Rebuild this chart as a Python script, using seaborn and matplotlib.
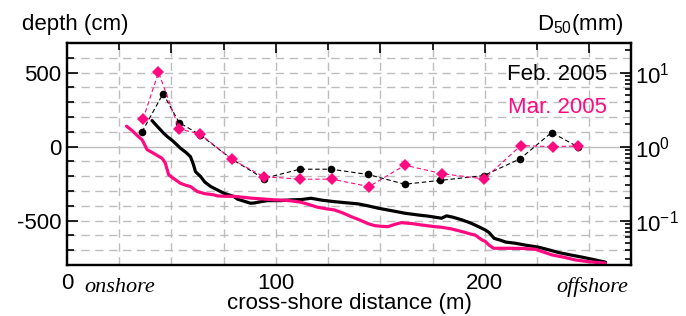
import numpy as np
import pandas as pd
import seaborn as sns
import matplotlib.pyplot as plt
from matplotlib.ticker import MultipleLocator, LogLocator, NullFormatter

# --- DATOS ---
feb_x = [40.7, 43, 46.3, 48, 50.5, 52.7, 54.3, 57, 59.1, 60.5, 61.5, 64, 66, 68.8, 70.3,
         75.1, 80, 81.6, 85, 88, 90, 92.8, 96, 102.4, 107, 112, 116.8, 122, 128, 134,
         139.3, 144, 148.9, 155, 161.7, 168, 173, 176.1, 179.3, 181.7, 185, 189, 193,
         197, 200.2, 202, 204.5, 207.4, 210, 214.6, 220, 225.8, 230, 235.4, 241, 246.6,
         252, 257.8]
feb_depth = [176, 140, 90, 68, 40, 11, -11, -40, -68, -120, -169, -203, -240, -270, -281,
             -315, -338, -355, -370, -383, -380, -372, -365, -365, -360, -358, -349, -362,
             -372, -380, -387, -400, -416, -432, -450, -462, -470, -477, -484, -468, -478,
             -495, -515, -541, -563, -580, -620, -632, -645, -653, -667, -680, -695, -716,
             -732, -747, -763, -781]

mar_x = [28.5, 31, 34, 36, 38.3, 42, 45.5, 47, 48.7, 51, 54.3, 57, 59.1, 62.4, 66, 70.3,
         72, 76, 80, 84, 88, 94, 99.2, 104, 108, 112, 116, 120, 124, 128, 132, 136, 140,
         144, 147.3, 150, 153.7, 157, 160.1, 165, 170, 176.1, 179.3, 184, 189, 193, 195.3,
         198.6, 200.2, 202, 204.2, 208, 211.4, 218, 224.2, 228, 232.2, 238, 243.4, 250,
         257.8]
mar_depth = [138, 110, 70, 45, -20, -50, -79, -110, -191, -215, -248, -262, -270, -304,
             -318, -326, -333, -336, -336, -342, -348, -354, -360, -362, -368, -376, -392,
             -410, -420, -428, -448, -473, -495, -520, -534, -538, -541, -525, -514, -520,
             -530, -541, -545, -556, -574, -590, -597, -630, -640, -665, -687, -687, -687,
             -688, -694, -712, -732, -748, -766, -778, -788]

feb_d50_x = [35.9, 46, 53.7, 63.6, 78.8, 94.1, 111.5, 126.4, 144.1, 161.7, 178.8, 199.4,
             216.8, 232, 244.6]
feb_d50 = [1.58, 5.2, 2.11, 1.45, 0.68, 0.37, 0.495, 0.495, 0.42, 0.31, 0.35, 0.405,
           0.68, 1.55, 0.99]

mar_d50_x = [36.4, 43.8, 53.7, 63.6, 78.8, 94.1, 111.5, 126.9, 144.6, 161.7, 179.7, 199.7,
             217.2, 232.5, 244.7]
mar_d50 = [2.34, 10.1, 1.72, 1.49, 0.676, 0.393, 0.363, 0.363, 0.288, 0.56, 0.43, 0.366,
           1.03, 1.0, 1.02]

PINK = '#ff0a80'
GRID = '#bdbdbd'

sns.set_style('white')
plt.rcParams['font.family'] = ['Liberation Sans', 'DejaVu Sans']
plt.rcParams['mathtext.fontset'] = 'custom'
plt.rcParams['mathtext.rm'] = 'Liberation Sans'
for k in ['text.color', 'axes.edgecolor', 'axes.labelcolor', 'xtick.color', 'ytick.color']:
    plt.rcParams[k] = 'black'
FS = 16

fig = plt.figure(figsize=(6.86, 3.16), dpi=100)
ax = fig.add_axes([67 / 686, 51 / 316, 564 / 686, 222 / 316])

# grid
for gx in np.arange(25, 270, 25):
    ax.axvline(gx, color=GRID, lw=1, ls=(0, (6, 4)), zorder=0)
for gy in np.arange(-700, 700, 100):
    if gy == 0:
        ax.axhline(gy, color=GRID, lw=1, zorder=0)
    else:
        ax.axhline(gy, color=GRID, lw=1, ls=(0, (6, 4)), zorder=0)

# perfiles de profundidad
sns.lineplot(x=feb_x, y=feb_depth, sort=False, estimator=None, ax=ax, color='black', lw=2.3)
sns.lineplot(x=mar_x, y=mar_depth, sort=False, estimator=None, ax=ax, color=PINK, lw=2.3)

ax.set_xlim(0, 270)
ax.set_ylim(-800, 700)
ax.set_xticks([0, 50, 100, 150, 200, 250], labels=['0', '', '100', '', '200', ''])
ax.xaxis.set_minor_locator(MultipleLocator(25))
ax.set_yticks([-500, 0, 500], labels=['-500', '0', '500'])
ax.yaxis.set_minor_locator(MultipleLocator(100))
ax.tick_params(axis='both', which='both', direction='in', top=True, labelsize=FS, width=1.2)
ax.tick_params(axis='y', which='major', length=8, pad=4)
ax.tick_params(axis='y', which='minor', length=5)
ax.tick_params(axis='x', which='major', length=7, pad=6)
ax.tick_params(axis='x', which='minor', length=5)
for sp in ax.spines.values():
    sp.set_linewidth(1.6)

# D50 en eje derecho logarítmico
ax2 = ax.twinx()
ax2.set_yscale('log')
sns.lineplot(x=feb_d50_x, y=feb_d50, sort=False, estimator=None, ax=ax2, color='black',
             lw=0.8, linestyle=(0, (4, 2.5)), marker='o', markersize=5.5,
             markeredgecolor='black', markeredgewidth=0)
sns.lineplot(x=mar_d50_x, y=mar_d50, sort=False, estimator=None, ax=ax2, color=PINK,
             lw=0.8, linestyle=(0, (4, 2.5)), marker='D', markersize=6,
             markeredgecolor=PINK, markeredgewidth=0)
ax2.set_ylim(10 ** -1.6, 10 ** 1.4)
ax2.yaxis.set_major_locator(LogLocator(base=10))
ax2.yaxis.set_minor_locator(LogLocator(base=10, subs=np.arange(2, 10)))
ax2.yaxis.set_minor_formatter(NullFormatter())
ax2.tick_params(axis='y', which='both', direction='in', labelsize=FS, width=1.2)
ax2.tick_params(axis='y', which='major', length=8, pad=3)
ax2.tick_params(axis='y', which='minor', length=4)
for sp in ax2.spines.values():
    sp.set_linewidth(1.6)
ax.set_xlabel('')
ax.set_ylabel('')
ax2.set_ylabel('')

# textos
fig.text(22 / 686, 1 - 30 / 316, 'depth (cm)', fontsize=FS, va='baseline', ha='left')
fig.text(624 / 686, 1 - 30 / 316, r'D$_{50}$(mm)', fontsize=FS, va='baseline', ha='right')
fig.text(349 / 686, 1 - 309 / 316, 'cross-shore distance (m)', fontsize=FS,
         va='baseline', ha='center')
ax.text(0.957, 0.833, 'Feb. 2005', transform=ax.transAxes, fontsize=FS, ha='right',
        va='baseline', color='black')
ax.text(0.957, 0.686, 'Mar. 2005', transform=ax.transAxes, fontsize=FS, ha='right',
        va='baseline', color=PINK)
fig.text(84 / 686, 1 - 292 / 316, 'onshore', fontsize=16, style='italic',
         family='Liberation Serif', va='baseline', ha='left')
fig.text(628 / 686, 1 - 292 / 316, 'offshore', fontsize=16, style='italic',
         family='Liberation Serif', va='baseline', ha='right')

fig.savefig('out.png', dpi=100)
